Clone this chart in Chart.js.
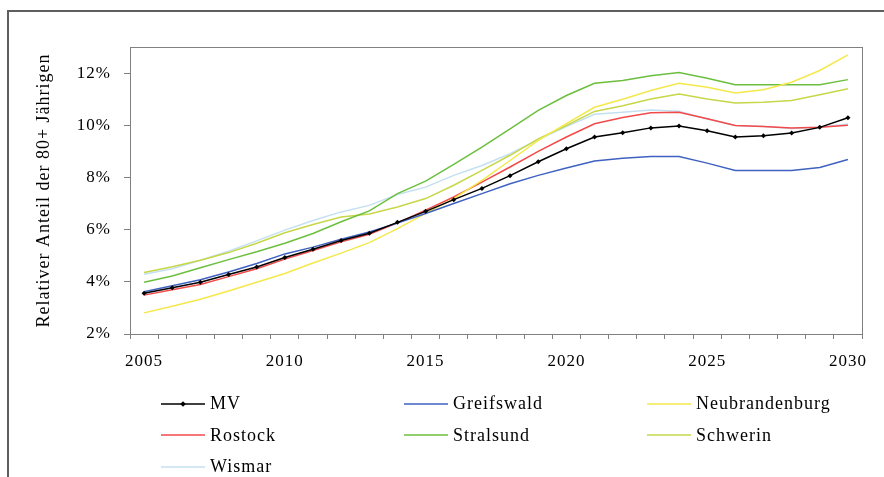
<!DOCTYPE html>
<html>
<head>
<meta charset="utf-8">
<script src="https://cdn.jsdelivr.net/npm/chart.js@4.4.1/dist/chart.umd.min.js"></script>
<style>
  html, body { margin: 0; padding: 0; background: #fff; }
  #wrap { position: relative; width: 884px; height: 477px; overflow: hidden; background: #fff; }
  #frame { position: absolute; left: 7px; top: 10px; width: 900px; height: 500px;
           border-left: 2px solid #5f5f5f; border-top: 2px solid #5f5f5f; box-sizing: border-box; }
  canvas { position: absolute; left: 0; top: 0; }
  #legend { position: absolute; left: 161px; top: 388px; display: grid;
            grid-template-columns: 243px 243px 243px; grid-auto-rows: 31.5px;
            font-family: "Liberation Serif", "Times New Roman", serif; font-size: 18px; color: #000;
            letter-spacing: 1px; }
  .item { display: flex; align-items: center; white-space: nowrap; }
  .item svg { margin-right: 5px; flex: none; }
</style>
</head>
<body>
<div id="wrap">
  <div id="frame"></div>
  <canvas id="c" width="884" height="477"></canvas>
  <div id="legend"></div>
</div>
<script>
const years = ["2005","2006","2007","2008","2009","2010","2011","2012","2013","2014","2015","2016","2017","2018","2019","2020","2021","2022","2023","2024","2025","2026","2027","2028","2029","2030"];
const yTicks = [2, 4, 6, 8, 10, 12];
const xLabelYears = ["2005","2010","2015","2020","2025","2030"];

const mv = [3.56, 3.77, 3.98, 4.28, 4.57, 4.93, 5.25, 5.58, 5.86, 6.28, 6.70, 7.15, 7.58, 8.07, 8.60, 9.10, 9.55, 9.71, 9.90, 9.97, 9.79, 9.55, 9.60, 9.70, 9.92, 10.29];
const greifswald = [3.62, 3.85, 4.08, 4.38, 4.70, 5.07, 5.33, 5.63, 5.91, 6.25, 6.62, 7.00, 7.38, 7.76, 8.08, 8.36, 8.63, 8.74, 8.80, 8.80, 8.55, 8.27, 8.27, 8.27, 8.38, 8.69];
const neubrandenburg = [2.81, 3.06, 3.33, 3.65, 3.98, 4.32, 4.72, 5.10, 5.50, 6.04, 6.62, 7.19, 7.89, 8.65, 9.42, 10.06, 10.69, 11.00, 11.33, 11.61, 11.46, 11.24, 11.36, 11.65, 12.10, 12.70];
const rostock = [3.49, 3.70, 3.90, 4.20, 4.50, 4.87, 5.20, 5.53, 5.82, 6.26, 6.75, 7.25, 7.82, 8.40, 9.00, 9.55, 10.06, 10.30, 10.48, 10.50, 10.25, 9.99, 9.95, 9.90, 9.92, 10.00];
const stralsund = [3.98, 4.22, 4.54, 4.85, 5.15, 5.48, 5.85, 6.30, 6.72, 7.38, 7.86, 8.50, 9.16, 9.86, 10.57, 11.14, 11.61, 11.72, 11.90, 12.02, 11.80, 11.55, 11.55, 11.55, 11.55, 11.75];
const schwerin = [4.36, 4.58, 4.83, 5.12, 5.48, 5.88, 6.20, 6.48, 6.60, 6.87, 7.19, 7.70, 8.27, 8.85, 9.48, 9.99, 10.53, 10.75, 11.01, 11.20, 11.01, 10.85, 10.88, 10.95, 11.17, 11.40];
const wismar = [4.29, 4.50, 4.83, 5.17, 5.57, 5.98, 6.35, 6.68, 6.93, 7.35, 7.63, 8.08, 8.46, 8.91, 9.45, 9.95, 10.42, 10.50, 10.59, 10.54, 10.25, 9.99, 9.95, 9.88, 9.92, 10.05];

const seriesNames = ["MV", "Greifswald", "Neubrandenburg", "Rostock", "Stralsund", "Schwerin", "Wismar"];
const seriesData = [mv, greifswald, neubrandenburg, rostock, stralsund, schwerin, wismar];
const seriesColors = ["#000000", "#3f62c0", "#f4e84a", "#f24a4a", "#6cbf3e", "#c6d748", "#c4e0f0"];

const AXIS = "#808080";
const SERIF = '"Liberation Serif", "Times New Roman", serif';

const datasets = seriesNames.map((name, i) => ({
  label: name,
  data: seriesData[i],
  borderColor: seriesColors[i],
  backgroundColor: seriesColors[i],
  borderWidth: 1.5,
  tension: 0,
  fill: false,
  pointRadius: i === 0 ? 2.5 : 0,
  pointStyle: i === 0 ? 'rectRot' : 'circle',
  pointBorderWidth: 0,
  pointHoverRadius: 0
}));

const boxPlugin = {
  id: 'plotBox',
  beforeDraw(chart) {
    chart.ctx.letterSpacing = '1px';
  },
  afterDraw(chart) {
    const a = chart.chartArea, ctx = chart.ctx;
    ctx.save();
    ctx.strokeStyle = AXIS;
    ctx.lineWidth = 1;
    ctx.strokeRect(Math.round(a.left) + 0.5, Math.round(a.top) + 0.5, Math.round(a.right - a.left), Math.round(a.bottom - a.top));
    ctx.restore();
  }
};

const chart = new Chart(document.getElementById('c'), {
  type: 'line',
  data: { labels: years, datasets },
  plugins: [boxPlugin],
  options: {
    responsive: false,
    animation: false,
    events: [],
    layout: { padding: { left: 0, top: 47, right: 22, bottom: 103 } },
    plugins: { legend: { display: false }, tooltip: { enabled: false } },
    scales: {
      x: {
        type: 'category',
        offset: true,
        afterFit(s) { s.height = 40; },
        grid: { offset: true, drawOnChartArea: false, drawTicks: true, tickLength: 5, color: AXIS, tickColor: AXIS },
        border: { color: AXIS, width: 1 },
        ticks: {
          autoSkip: false, maxRotation: 0, padding: 12, color: '#000',
          font: { family: SERIF, size: 17 },
          callback(v, i) { const l = years[i]; return xLabelYears.includes(l) ? l : ''; }
        }
      },
      y: {
        min: 2, max: 13,
        afterFit(s) { s.width = 130; },
        afterBuildTicks(s) { s.ticks = yTicks.map(v => ({ value: v })); },
        grid: { drawOnChartArea: false, drawTicks: true, tickLength: 6, color: AXIS, tickColor: AXIS },
        border: { color: AXIS, width: 1 },
        title: {
          display: true, text: 'Relativer Anteil der 80+ Jährigen', color: '#000',
          font: { family: SERIF, size: 18 }, padding: { top: 33, bottom: 0 }
        },
        ticks: {
          padding: 13, color: '#000',
          font: { family: SERIF, size: 17 },
          callback(v) { return v + '%'; }
        }
      }
    }
  }
});

// HTML legend built from the chart's datasets
const legendEl = document.getElementById('legend');
chart.data.datasets.forEach((ds, i) => {
  const item = document.createElement('div');
  item.className = 'item';
  const svgNS = 'http://www.w3.org/2000/svg';
  const svg = document.createElementNS(svgNS, 'svg');
  svg.setAttribute('width', '44'); svg.setAttribute('height', '8');
  const line = document.createElementNS(svgNS, 'line');
  line.setAttribute('x1', '0'); line.setAttribute('x2', '44');
  line.setAttribute('y1', '4'); line.setAttribute('y2', '4');
  line.setAttribute('stroke', ds.borderColor); line.setAttribute('stroke-width', '1.5');
  svg.appendChild(line);
  if (ds.pointRadius > 0) {
    const m = document.createElementNS(svgNS, 'rect');
    m.setAttribute('x', '20'); m.setAttribute('y', '2'); m.setAttribute('width', '4'); m.setAttribute('height', '4');
    m.setAttribute('fill', ds.borderColor);
    m.setAttribute('transform', 'rotate(45 22 4)');
    svg.appendChild(m);
  }
  item.appendChild(svg);
  const t = document.createElement('span');
  t.textContent = ds.label;
  item.appendChild(t);
  legendEl.appendChild(item);
});
</script>
</body>
</html>
